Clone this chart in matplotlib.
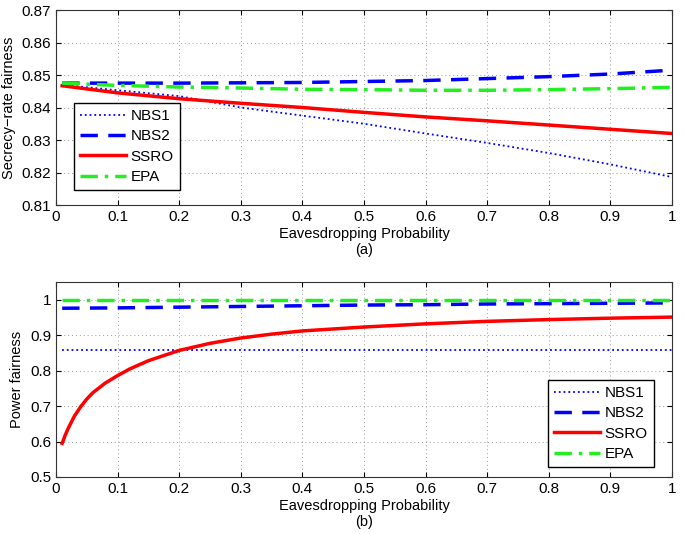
import matplotlib.pyplot as plt
import numpy as np

plt.rcParams['font.family'] = ['Liberation Sans', 'DejaVu Sans']
plt.rcParams['font.size'] = 10.5

# (a) secrecy-rate fairness
xa = [0.01, 0.1, 0.2, 0.3, 0.4, 0.5, 0.6, 0.7, 0.8, 0.9, 1.0]
nbs1_a = [0.8470, 0.8453, 0.8435, 0.8400, 0.8375, 0.8350, 0.8320, 0.8291, 0.8260, 0.8225, 0.8186]
nbs2_a = [0.8475, 0.8475, 0.8475, 0.8476, 0.8477, 0.8480, 0.8483, 0.8489, 0.8495, 0.8503, 0.8515]
ssro_a = [0.8467, 0.8445, 0.8427, 0.8413, 0.8400, 0.8385, 0.8371, 0.8359, 0.8346, 0.8333, 0.8320]
epa_a = [0.8475, 0.8468, 0.8463, 0.8460, 0.8456, 0.8455, 0.8453, 0.8453, 0.8455, 0.8458, 0.8462]

# (b) power fairness
xb = [0.01, 0.015, 0.02, 0.03, 0.04, 0.05, 0.06, 0.08, 0.1, 0.12, 0.15, 0.2, 0.25,
      0.3, 0.35, 0.4, 0.5, 0.6, 0.7, 0.8, 0.9, 1.0]
ssro_b = [0.595, 0.618, 0.638, 0.672, 0.698, 0.720, 0.738, 0.765, 0.786, 0.805, 0.828,
          0.857, 0.877, 0.892, 0.903, 0.912, 0.923, 0.932, 0.939, 0.944, 0.948, 0.951]
xb2 = [0.01, 0.1, 0.2, 0.3, 0.4, 0.5, 0.6, 0.7, 0.8, 0.9, 1.0]
nbs1_b = [0.858] * len(xb2)
nbs2_b = [0.976, 0.977, 0.979, 0.981, 0.983, 0.985, 0.986, 0.988, 0.989, 0.990, 0.991]
epa_b = [1.0] * len(xb2)

names = ['NBS1', 'NBS2', 'SSRO', 'EPA']

fig = plt.figure(figsize=(6.85, 5.34), dpi=100)
ax1 = fig.add_axes([56/685, 1 - 205/534, 616/685, 195/534])
ax2 = fig.add_axes([56/685, 1 - 477/534, 616/685, 195/534])

styles = [dict(color='b', ls=':', lw=1.3),
          dict(color='b', ls=(0, (5, 3)), lw=2.5),
          dict(color='r', ls='-', lw=2.5),
          dict(color='#22ee22', ls=(0, (5, 2, 1, 2)), lw=2.5)]

def draw(ax, xs, series):
    for x, y, st, nm in zip(xs, series, styles, names):
        ax.plot(x, y, label=nm, **st)
    ax.set_xlim(0, 1)
    ax.set_xticks(np.arange(0, 1.01, 0.1))
    ax.set_xticklabels(['0', '0.1', '0.2', '0.3', '0.4', '0.5', '0.6', '0.7', '0.8', '0.9', '1'])
    ax.grid(True, ls=(0, (1, 3)), color='#999999', lw=0.7)
    ax.tick_params(direction='in', top=True, right=True, labelsize=11)
    for s in ax.spines.values():
        s.set_color('#333333')

draw(ax1, [xa] * 4, [nbs1_a, nbs2_a, ssro_a, epa_a])
ax1.set_ylim(0.81, 0.87)
ax1.set_yticks(np.arange(0.81, 0.8701, 0.01))
ax1.set_yticklabels(['0.81', '0.82', '0.83', '0.84', '0.85', '0.86', '0.87'])
ax1.set_ylabel('Secrecy\u2212rate fairness')
ax1.set_xlabel('Eavesdropping Probability\n(a)', labelpad=2)
ax1.legend(loc='lower left', bbox_to_anchor=(0.029, 0.075), borderaxespad=0, fancybox=False,
           edgecolor='k', framealpha=1, fontsize=11, handlelength=3.0,
           borderpad=0.4, labelspacing=0.42, handletextpad=0.3)

draw(ax2, [xb2, xb2, xb, xb2], [nbs1_b, nbs2_b, ssro_b, epa_b])
ax2.set_ylim(0.5, 1.05)
ax2.set_yticks([0.5, 0.6, 0.7, 0.8, 0.9, 1.0])
ax2.set_yticklabels(['0.5', '0.6', '0.7', '0.8', '0.9', '1'])
ax2.set_ylabel('Power fairness')
ax2.set_xlabel('Eavesdropping Probability\n(b)', labelpad=2)
ax2.legend(loc='lower right', bbox_to_anchor=(0.97, 0.05), borderaxespad=0, fancybox=False,
           edgecolor='k', framealpha=1, fontsize=11, handlelength=3.0,
           borderpad=0.4, labelspacing=0.42, handletextpad=0.3)

fig.savefig('out.png', dpi=100)
